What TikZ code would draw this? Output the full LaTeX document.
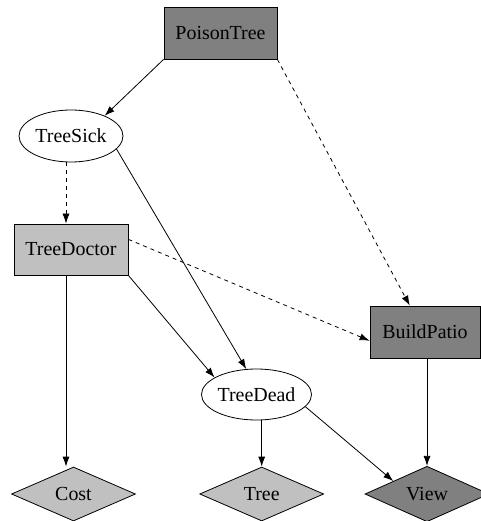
\documentclass[tikz,border=0pt]{standalone}
\usepackage{fontspec}
\setmainfont{Liberation Serif}
\usetikzlibrary{shapes.geometric,arrows.meta}
\definecolor{dark}{HTML}{808080}
\definecolor{light}{HTML}{C0C0C0}
\begin{document}
\begin{tikzpicture}[x=1bp,y=-1bp,
  font=\fontsize{20}{24}\selectfont,
  every node/.style={draw=black,line width=0.8bp,inner sep=0pt},
  rectnode/.style={rectangle,minimum width=113bp,minimum height=52bp},
  ellnode/.style={ellipse,fill=white,minimum width=104bp,minimum height=52bp},
  dianode/.style={diamond,minimum width=124bp,minimum height=54bp},
  edge/.style={line width=0.8bp,-{Latex[length=10bp,width=7bp]}},
  dedge/.style={edge,dash pattern=on 4bp off 4bp}]
\clip (0,0) rectangle (481,521);
\fill[white] (0,0) rectangle (481,521);
\node[rectnode,fill=dark] (PT) at (220.5,33) {PoisonTree};
\node[ellnode] (TS) at (71,136) {TreeSick};
\node[rectnode,fill=light,minimum width=114bp,minimum height=51bp] (TD) at (71,249.5) {TreeDoctor};
\node[rectnode,fill=dark,minimum width=110bp] (BP) at (425,332) {BuildPatio};
\node[ellnode,minimum width=105bp,minimum height=51bp] (TDe) at (256.5,394.5) {TreeDead};
\node[dianode,fill=light] (Cost) at (73.5,494) {Cost};
\node[dianode,fill=light] (Tree) at (261.7,494) {Tree};
\node[dianode,fill=dark] (View) at (427,494) {View};
\draw[edge] (PT.south west) -- (TS.31);
\draw[dedge] (PT.south east) -- (BP.120);
\draw[dedge] ([xshift=-5bp]TS.south) -- ([xshift=-5bp]TD.north);
\draw[edge] (TS.-16) -- (TDe.112);
\draw[edge] (TD.south east) -- (TDe.158);
\draw[dedge] (TD.10) -- (BP.189);
\draw[edge] ([xshift=-5bp]TD.south) -- ([xshift=-5bp]TD.south |- Cost.north);
\draw[edge] (Tree.north |- TDe.south) -- (Tree.north);
\draw[edge] (TDe.-14) -- (View.159);
\draw[edge] (View.north |- BP.south) -- (View.north);
\end{tikzpicture}
\end{document}
